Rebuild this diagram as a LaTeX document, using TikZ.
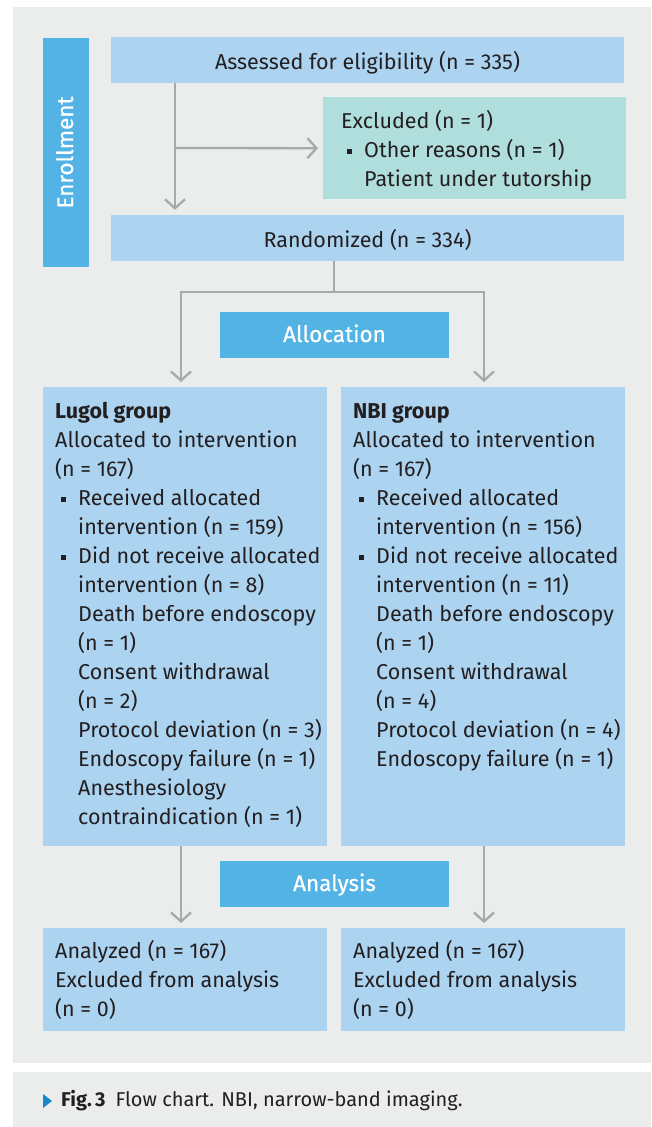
\documentclass[tikz,border=0pt]{standalone}
\usepackage{fontspec}
\setmainfont{Fira Sans}
\newfontfamily\headfont[FakeBold=0.6]{Fira Sans}
\usepackage{tikz}
\usetikzlibrary{arrows.meta,positioning,calc}
\definecolor{PanelGray}{HTML}{EBECEC}
\definecolor{BoxBlue}{HTML}{ACD3F0}
\definecolor{HeadBlue}{HTML}{53B3E5}
\definecolor{ExclTeal}{HTML}{B0DEDD}
\definecolor{LineGray}{HTML}{A7A9AC}
\definecolor{TextDark}{HTML}{231F20}
\definecolor{FigBlue}{HTML}{1B87CE}
\newcommand{\blt}{\makebox[23pt][l]{\hspace*{6pt}\rule[3pt]{5pt}{5pt}}}
\newcommand{\ind}{\hspace*{23pt}}
\newcommand{\toprow}[1]{\rule{0pt}{#1}}

\begin{document}
\begin{tikzpicture}[
	x=1pt, y=-1pt,
	font=\fontsize{21.5}{29}\selectfont,
	box/.style={fill=BoxBlue, text=TextDark, inner sep=0pt, minimum width=513pt, minimum height=46pt, text height=18pt, text depth=0pt},
	head/.style={fill=HeadBlue, text=white, inner sep=0pt, minimum width=229pt, minimum height=46pt, text height=16pt, text depth=2pt, font=\headfont\fontsize{22.5}{29}\selectfont},
	listbox/.style={fill=BoxBlue, text=TextDark, anchor=north west, inner sep=0pt, minimum width=284pt},
	arrow/.style={-{Straight Barb[length=9pt,width=20pt]}, line width=2.3pt, draw=LineGray, shorten >=5pt}
]
\useasboundingbox (0,0) rectangle (651,1127);
\fill[PanelGray] (13,7) rectangle (651,1063);
\fill[PanelGray] (13,1072) rectangle (651,1127);

\node[head, rotate=90] (enroll) at (66,152.5) {Enrollment};
\node[box] (assess) at (367.5,60) {Assessed for eligibility (n = 335)};
\node[listbox, fill=ExclTeal, minimum width=303pt] (excl) at (323,97)
	{\parbox[c][102pt][t]{303pt}{\raggedright\leftskip=18pt\toprow{31pt}Excluded (n = 1)\\
	\blt Other reasons (n = 1)\\
	\ind Patient under tutorship}};
\node[box] (rand) at (367.5,238) {Randomized (n = 334)};
\node[head] (alloc) at (334.5,335) {Allocation};

\node[listbox] (lugol) at (43,387)
	{\parbox[c][459pt][t]{284pt}{\raggedright\leftskip=12pt\toprow{31pt}\textbf{Lugol group}\\
	Allocated to intervention\\
	(n = 167)\\
	\blt Received allocated\\
	\ind intervention (n = 159)\\
	\blt Did not receive allocated\\
	\ind intervention (n = 8)\\
	\ind Death before endoscopy\\
	\ind (n = 1)\\
	\ind Consent withdrawal\\
	\ind (n = 2)\\
	\ind Protocol deviation (n = 3)\\
	\ind Endoscopy failure (n = 1)\\
	\ind Anesthesiology\\
	\ind contraindication (n = 1)}};
\node[listbox] (nbi) at (341,387)
	{\parbox[c][459pt][t]{284pt}{\raggedright\leftskip=12pt\toprow{31pt}\textbf{NBI group}\\
	Allocated to intervention\\
	(n = 167)\\
	\blt Received allocated\\
	\ind intervention (n = 156)\\
	\blt Did not receive allocated\\
	\ind intervention (n = 11)\\
	\ind Death before endoscopy\\
	\ind (n = 1)\\
	\ind Consent withdrawal\\
	\ind (n = 4)\\
	\ind Protocol deviation (n = 4)\\
	\ind Endoscopy failure (n = 1)}};

\node[head] (analysis) at (334.5,884) {Analysis};
\node[listbox] (anaL) at (43,928)
	{\parbox[c][103pt][t]{284pt}{\raggedright\leftskip=12pt\toprow{30pt}Analyzed (n = 167)\\
	Excluded from analysis\\
	(n = 0)}};
\node[listbox] (anaR) at (341,928)
	{\parbox[c][103pt][t]{284pt}{\raggedright\leftskip=12pt\toprow{30pt}Analyzed (n = 167)\\
	Excluded from analysis\\
	(n = 0)}};

\coordinate (split) at (175,148);
\coordinate (fork) at (334,292);
\coordinate (colL) at (181,0);
\coordinate (colR) at (484,0);
\draw[arrow] (assess.south -| split) -- (rand.north -| split);
\draw[arrow] (split) -- (excl.west);
\draw[line width=2.3pt, LineGray] (rand.south -| fork) -- (fork);
\draw[arrow] (fork) -| (lugol.north -| colL);
\draw[arrow] (fork) -| (nbi.north -| colR);
\draw[arrow] (lugol.south -| colL) -- (anaL.north -| colL);
\draw[arrow] (nbi.south -| colR) -- (anaR.north -| colR);

\fill[FigBlue] (43,1094) -- (43,1108) -- (52,1101) -- cycle;
\node[anchor=west, inner sep=0pt, text=TextDark, font=\fontsize{20}{22}\selectfont] (caption) at (61,1101)
	{\textbf{Fig.\,3}\hspace{10pt}Flow chart. NBI, narrow-band imaging.};
\end{tikzpicture}
\end{document}
